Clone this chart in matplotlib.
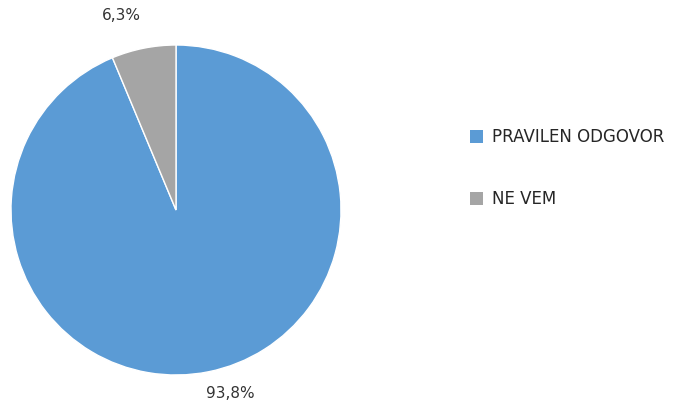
import matplotlib.pyplot as plt
from matplotlib.patches import Patch

# Data
categories = ["PRAVILEN ODGOVOR", "NE VEM"]
shares = [93.8, 6.3]
share_labels = ["93,8%", "6,3%"]
colors = ["#5B9BD5", "#A5A5A5"]


def draw_plot():
    fig = plt.figure(figsize=(6.89, 4.05), dpi=100)
    ax = fig.add_axes([11 / 689, 30 / 405, 330 / 689, 330 / 405])

    wedges, texts = ax.pie(
        shares,
        labels=share_labels,
        colors=colors,
        startangle=90,
        counterclock=False,
        labeldistance=1.15,
        wedgeprops={"edgecolor": "white", "linewidth": 1},
        textprops={"fontsize": 11, "color": "#333333"},
    )
    # nudge the labels to where the original sits them
    texts[0].set_position((0.33, -1.11))
    texts[1].set_position((-0.33, 1.18))
    for t in texts:
        t.set_ha("center")
        t.set_va("center")
    ax.set_xlim(-1, 1)
    ax.set_ylim(-1, 1)
    ax.set_aspect("equal")

    handles = [Patch(facecolor=c, edgecolor="none") for c in colors]
    fig.legend(
        handles,
        categories,
        loc="upper left",
        bbox_to_anchor=(455 / 689, 1 - 113 / 405),
        frameon=False,
        handlelength=0.8,
        handleheight=0.8,
        handletextpad=0.5,
        labelspacing=2.65,
        prop={"size": 12},
        labelcolor="#262626",
    )

    fig.savefig("out.png", dpi=100)


if __name__ == "__main__":
    draw_plot()
